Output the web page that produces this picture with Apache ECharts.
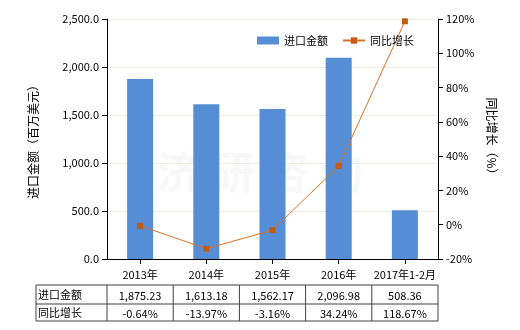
<!DOCTYPE html>
<html><head><meta charset="utf-8">
<script src="https://cdn.jsdelivr.net/npm/echarts@6/dist/echarts.min.js"></script>
<style>html,body{margin:0;padding:0;background:#fff}#c{width:520px;height:330px}</style>
</head><body><div id="c"></div>
<script>
var categories = ['2013年','2014年','2015年','2016年','2017年1-2月'];
var importValues = [1875.23, 1613.18, 1562.17, 2096.98, 508.36];
var growthValues = [-0.64, -13.97, -3.16, 34.24, 118.67];
var importLabels = ['1,875.23','1,613.18','1,562.17','2,096.98','508.36'];
var growthLabels = ['-0.64%','-13.97%','-3.16%','34.24%','118.67%'];
var rowNames = ['进口金额','同比增长'];

var FONT = '"Noto Sans CJK SC", "Microsoft YaHei", sans-serif';
var chart = echarts.init(document.getElementById('c'), null, {renderer:'canvas'});
var gridL = 107, gridR = 438, gridT = 19, gridB = 259;
var colW = (gridR - gridL) / categories.length;
var tableLeft = 36, rowY = [285, 304, 321];

var graphics = [];
// watermark
graphics.push({type:'text', left:'center', top:150, z:0, silent:true,
  style:{text:'济 研 咨 询', fill:'rgba(200,200,200,0.12)', font:'bold 44px ' + FONT}});
// table lines
var xs = [tableLeft, gridL];
for (var i = 1; i <= categories.length; i++) xs.push(gridL + colW * i);
rowY.forEach(function(y){
  graphics.push({type:'line', shape:{x1:tableLeft, y1:y, x2:xs[xs.length-1], y2:y}, style:{stroke:'#404040', lineWidth:1}});
});
xs.forEach(function(x){
  graphics.push({type:'line', shape:{x1:x, y1:rowY[0], x2:x, y2:rowY[2]}, style:{stroke:'#404040', lineWidth:1}});
});
rowNames.forEach(function(n, r){
  graphics.push({type:'text', x:tableLeft + 2, y:(rowY[r] + rowY[r+1]) / 2,
    style:{text:n, fill:'#000', font:'11px ' + FONT, textVerticalAlign:'middle', textAlign:'left'}});
});
[importLabels, growthLabels].forEach(function(arr, r){
  arr.forEach(function(t, i){
    graphics.push({type:'text', x:gridL + colW * (i + 0.5), y:(rowY[r] + rowY[r+1]) / 2 + 1,
      style:{text:t, fill:'#000', font:'11px ' + FONT, textAlign:'center', textVerticalAlign:'middle'}});
  });
});

chart.setOption({
  animation:false,
  textStyle:{fontFamily:FONT},
  grid:{left:gridL, right:520 - gridR, top:gridT, bottom:330 - gridB},
  legend:{top:30, left:252, itemGap:14, itemWidth:22, itemHeight:8,
    textStyle:{fontSize:11, color:'#000', fontFamily:FONT},
    data:[{name:'进口金额', icon:'rect'}, {name:'同比增长'}]},
  xAxis:{type:'category', data:categories,
    axisLine:{lineStyle:{color:'#000'}}, axisTick:{show:true, alignWithLabel:true, lineStyle:{color:'#000'}},
    axisLabel:{color:'#000', fontSize:11, margin:10, interval:0, fontFamily:FONT}},
  yAxis:[{type:'value', min:0, max:2500, interval:500,
    name:'进口金额（百万美元）', nameLocation:'middle', nameGap:68, nameRotate:90,
    nameTextStyle:{fontSize:12, color:'#000', fontFamily:FONT},
    axisLine:{show:true, lineStyle:{color:'#000'}}, axisTick:{show:true, lineStyle:{color:'#000'}},
    axisLabel:{color:'#000', fontSize:11, formatter:function(v){return v.toLocaleString('en-US',{minimumFractionDigits:1, maximumFractionDigits:1});}},
    splitLine:{show:true, lineStyle:{color:'#eeeede', width:1}}},
   {type:'value', min:-20, max:120, interval:20,
    name:'同比增长（%）', nameLocation:'middle', nameGap:48, nameRotate:-90,
    nameTextStyle:{fontSize:12, color:'#000', fontFamily:FONT},
    axisLine:{show:true, lineStyle:{color:'#000'}}, axisTick:{show:true, lineStyle:{color:'#000'}},
    axisLabel:{color:'#000', fontSize:11, formatter:'{value}%'},
    splitLine:{show:false}}],
  series:[{name:'进口金额', type:'bar', data:importValues, barWidth:26,
      itemStyle:{color:'#558ED5'}},
    {name:'同比增长', type:'line', yAxisIndex:1, data:growthValues,
      symbol:'rect', symbolSize:6,
      lineStyle:{color:'#E07020', width:1},
      itemStyle:{color:'#C55A11'}}],
  graphic:graphics
});
</script></body></html>
